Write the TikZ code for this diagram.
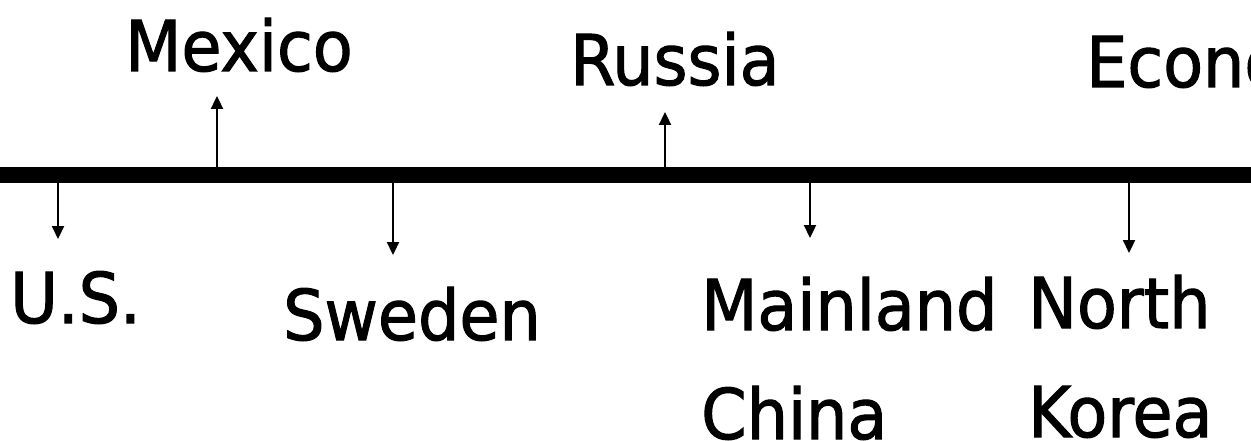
\documentclass[tikz,border=0pt]{standalone}
\usepackage{fontspec}
\setmainfont[FakeStretch=1.035,FakeBold=1.5]{DejaVu Sans Condensed}
\usetikzlibrary{arrows.meta}
\tikzset{
  label/.style={anchor=base west, inner sep=0pt, font=\fontsize{70}{110}\selectfont},
  pointer/.style={line width=2.3pt, -{Triangle[width=12pt,length=13pt]}},
  axisbar/.style={line width=15.5pt}
}
\begin{document}
\begin{tikzpicture}[x=1pt,y=-1pt]
  \useasboundingbox (0,0) rectangle (1251,441);
  % the spectrum bar
  \coordinate (L) at (0,175);
  \coordinate (R) at (1251,175);
  \draw[axisbar] (L) -- (R);
  % points on the bar and arrow tips
  \coordinate (us0) at (58,183);      \coordinate (us1) at (58,239);
  \coordinate (mx0) at (217,167);     \coordinate (mx1) at (217,96);
  \coordinate (sw0) at (393,183);     \coordinate (sw1) at (393,255);
  \coordinate (ru0) at (665,167);     \coordinate (ru1) at (665,112);
  \coordinate (ch0) at (810,183);     \coordinate (ch1) at (810,238);
  \coordinate (nk0) at (1129,183);    \coordinate (nk1) at (1129,253);
  \draw[pointer] (us0) -- (us1);
  \draw[pointer] (mx0) -- (mx1);
  \draw[pointer] (sw0) -- (sw1);
  \draw[pointer] (ru0) -- (ru1);
  \draw[pointer] (ch0) -- (ch1);
  \draw[pointer] (nk0) -- (nk1);
  % labels
  \node[label] (mexico) at (125,71) {Mexico};
  \node[label] (russia) at (570,85) {Russia};
  \node[label] (econ) at (1086,87) {Economy};
  \node[label] (us) at (10,323) {U.S.};
  \node[label] (sweden) at (283,340) {Sweden};
  \node[label] (mainland) at (701,330) {Mainland};
  \node[label] (china) at (701,439) {China};
  \node[label] (north) at (1028,328) {North};
  \node[label] (korea) at (1028,437) {Korea};
\end{tikzpicture}
\end{document}
